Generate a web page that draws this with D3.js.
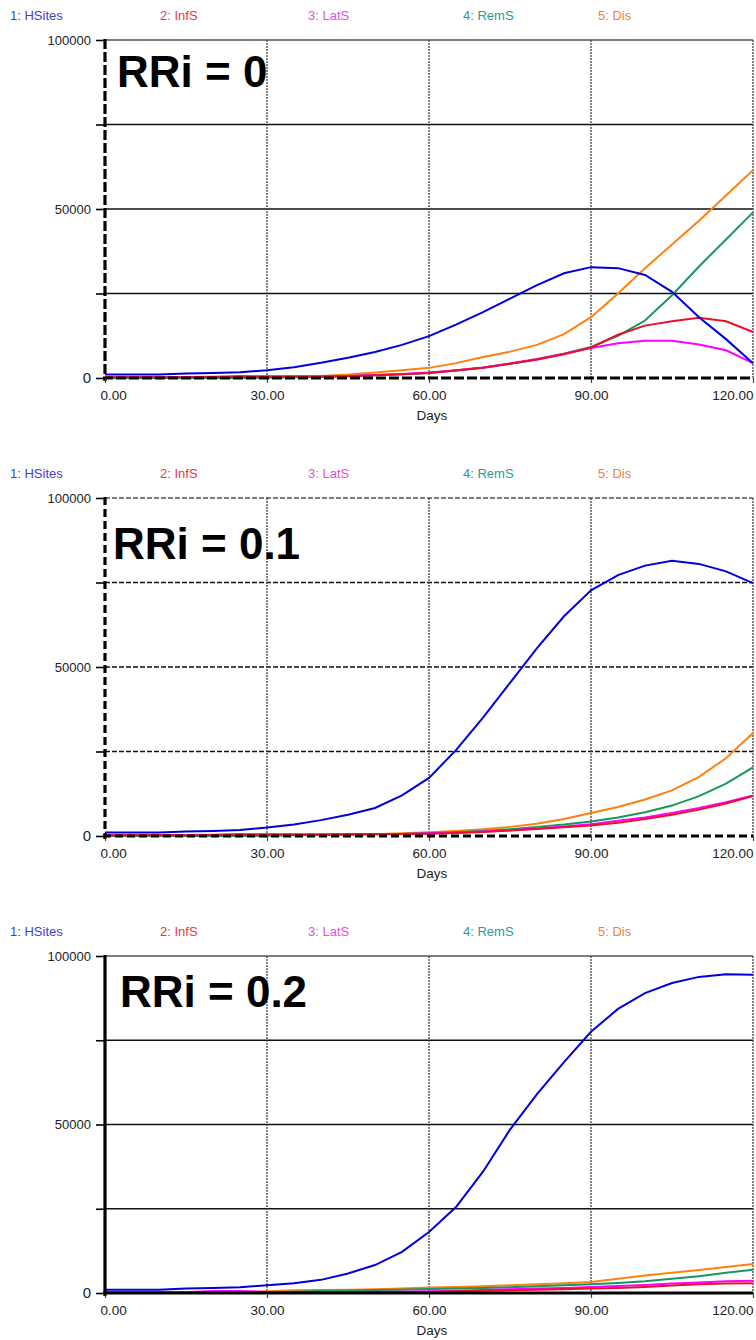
<!DOCTYPE html>
<html>
<head>
<meta charset="utf-8">
<script src="https://cdn.jsdelivr.net/npm/d3@7"></script>
<style>
  body { margin: 0; background: #fff; }
  svg { display: block; font-family: "Liberation Sans", Arial, sans-serif; }
</style>
</head>
<body>
<div id="corpo"></div>
<script>
// days sampled every 5 days
var days = [0,5,10,15,20,25,30,35,40,45,50,55,60,65,70,75,80,85,90,95,100,105,110,115,120];

var seriesNames = ["1: HSites", "2: InfS", "3: LatS", "4: RemS", "5: Dis"];
var titles = ["RRi = 0", "RRi = 0.1", "RRi = 0.2"];
var xTicks = [0, 30, 60, 90, 120];
var yTicks = [0, 25000, 50000, 75000, 100000];
var yLabels = [0, 50000, 100000];

// RRi = 0
var hsites0 = [1000,1000,1000,1300,1500,1700,2300,3200,4500,6000,7700,9800,12400,15800,19500,23500,27500,31000,32800,32500,30500,25500,18000,11500,4400];
var infs0   = [200,200,200,200,300,300,400,400,400,500,800,1100,1500,2200,3000,4200,5500,7000,9000,12800,15500,16800,17800,16800,13600];
var lats0   = [300,300,300,300,400,600,500,500,500,600,900,1200,1600,2300,3100,4300,5600,7200,8900,10300,11000,11000,9900,8200,4400];
var rems0   = [0,0,0,0,0,0,100,200,300,500,800,1100,1500,2200,3000,4200,5500,7200,9200,12500,17000,24500,33000,41000,49000];
var dis0    = [0,0,0,0,0,0,200,400,600,1000,1600,2300,3000,4400,6200,7800,9800,13000,18000,25000,32500,39500,46500,54000,61500];

// RRi = 0.1
var hsites1 = [1000,1000,1000,1300,1500,1800,2500,3400,4700,6300,8300,12000,17200,25400,35000,45300,55600,65000,72700,77200,80000,81400,80500,78300,74800];
var infs1   = [200,200,200,200,300,300,400,400,400,500,500,600,700,900,1200,1600,2100,2600,3100,3900,5000,6300,7800,9600,11800];
var lats1   = [300,300,300,300,400,600,500,500,500,500,600,600,800,1000,1300,1700,2200,2800,3500,4500,5500,6800,8300,10000,12000];
var rems1   = [0,0,0,0,0,0,100,200,300,400,500,600,800,1100,1500,2000,2700,3400,4300,5500,7000,9000,11800,15500,20300];
var dis1    = [0,0,0,0,0,0,200,300,400,400,500,800,1100,1500,2000,2700,3600,5000,6800,8600,10800,13500,17500,23000,30500];

// RRi = 0.2
var hsites2 = [1000,1000,1000,1300,1500,1700,2300,2900,3900,5800,8300,12200,18100,25500,36000,48500,59000,68500,77500,84300,89000,92000,93800,94600,94400];
var infs2   = [100,100,100,100,200,200,300,300,300,300,300,300,300,500,700,800,1000,1100,1300,1500,1800,2200,2600,2800,2900];
var lats2   = [200,200,200,200,600,600,300,300,300,300,400,400,500,700,900,1100,1300,1500,1800,2100,2400,2800,3100,3500,3600];
var rems2   = [0,0,0,0,0,0,200,400,600,700,900,1000,1200,1300,1500,1700,2000,2300,2600,3000,3500,4200,5000,6000,6900];
var dis2    = [300,300,300,300,300,300,500,800,900,1000,1100,1300,1600,1800,2000,2300,2600,2900,3300,4200,5200,6000,6800,7700,8600];

var panelData = [
    [hsites0, infs0, lats0, rems0, dis0],
    [hsites1, infs1, lats1, rems1, dis1],
    [hsites2, infs2, lats2, rems2, dis2]
];

var lineColors = ["#0000dd", "#e8102a", "#ff00ff", "#14995a", "#ff8010"];
var legendColors = ["#4040d8", "#e8384a", "#e050e0", "#2a9a9a", "#f08040"];
var legendX = [10, 160, 308, 463, 598];

// layout / style of each panel
var panels = [
    {top: 40,  bottom: 378,  titleX: 117, titleY: 87,   grid: null,  axis: "10,3"},
    {top: 498, bottom: 836,  titleX: 113, titleY: 559,  grid: "5,2", axis: "8,4"},
    {top: 956, bottom: 1293, titleX: 120, titleY: 1007, grid: null,  axis: null}
];

var width = 756, height = 1340;
var left = 105, right = 753;

var svg = d3.select("#corpo").append("svg")
    .attr("width", width)
    .attr("height", height);

var x = d3.scaleLinear().domain([0, 120]).range([left, right]);

panels.forEach(function(p, i){
    var y = d3.scaleLinear().domain([0, 100000]).range([p.bottom, p.top]);
    var g = svg.append("g");

    // legend
    g.selectAll(".leg")
        .data(seriesNames)
        .enter().append("text")
        .attr("x", function(d, k){ return legendX[k]; })
        .attr("y", p.top - 20)
        .style("font-size", "13px")
        .style("fill", function(d, k){ return legendColors[k]; })
        .text(function(d){ return d; });

    // horizontal grid
    g.selectAll(".hg")
        .data([25000, 50000, 75000])
        .enter().append("line")
        .attr("x1", left).attr("x2", right)
        .attr("y1", function(d){ return y(d); })
        .attr("y2", function(d){ return y(d); })
        .style("stroke", "#111")
        .style("stroke-width", 1.7)
        .style("stroke-dasharray", p.grid);

    // top line
    g.append("line")
        .attr("x1", left).attr("x2", right)
        .attr("y1", y(100000)).attr("y2", y(100000))
        .style("stroke", "#555")
        .style("stroke-width", 1.7)
        .style("stroke-dasharray", p.grid);

    // vertical grid (dotted)
    g.selectAll(".vg")
        .data([30, 60, 90, 120])
        .enter().append("line")
        .attr("x1", function(d){ return x(d); })
        .attr("x2", function(d){ return x(d); })
        .attr("y1", p.top).attr("y2", p.bottom)
        .style("stroke", "#444")
        .style("stroke-width", 1.3)
        .style("stroke-dasharray", "2,1");

    // series
    var line = d3.line()
        .x(function(d, k){ return x(days[k]); })
        .y(function(d){ return y(d); });

    // draw back to front: Dis first, HSites last
    var order = [4, 3, 2, 1, 0];
    order.forEach(function(s){
        g.append("path")
            .datum(panelData[i][s])
            .attr("d", line)
            .style("fill", "none")
            .style("stroke", lineColors[s])
            .style("stroke-width", 2);
    });

    // y axis
    var yAxis = d3.axisLeft(y)
        .tickValues(yTicks)
        .tickSize(9)
        .tickPadding(5)
        .tickFormat(function(d){ return yLabels.indexOf(d) >= 0 ? d : ""; });
    var ya = g.append("g")
        .attr("transform", "translate(" + left + ",0)")
        .call(yAxis);
    ya.select(".domain").remove();
    ya.selectAll(".tick line").style("stroke", "#000").style("stroke-width", 1.6);
    ya.selectAll("text").style("font-size", "13px").style("fill", "#222")
        .style("font-family", "Liberation Sans, Arial");
    ya.selectAll(".tick").filter(function(d){ return d === 0; }).select("text")
        .style("font-size", "15px");

    g.append("line")
        .attr("x1", left).attr("x2", left)
        .attr("y1", p.top - 1).attr("y2", p.bottom + 3)
        .style("stroke", "#000")
        .style("stroke-width", 3.2)
        .style("stroke-dasharray", p.axis);

    // x axis
    var xAxis = d3.axisBottom(x)
        .tickValues(xTicks)
        .tickSize(5)
        .tickPadding(7)
        .tickFormat(d3.format(".2f"));
    var xa = g.append("g")
        .attr("transform", "translate(0," + p.bottom + ")")
        .call(xAxis);
    xa.select(".domain").remove();
    xa.selectAll(".tick line").style("stroke", "#444").style("stroke-width", 1.2);
    xa.selectAll("text").style("font-size", "13.5px").style("fill", "#222")
        .style("font-family", "Liberation Sans, Arial")
        .attr("text-anchor", function(d){ return d === 0 ? "start" : (d === 120 ? "end" : "middle"); })
        .attr("dx", function(d){ return d === 0 ? -5 : 0; });

    g.append("line")
        .attr("x1", left - 2).attr("x2", right)
        .attr("y1", p.bottom).attr("y2", p.bottom)
        .style("stroke", "#000")
        .style("stroke-width", 3.2)
        .style("stroke-dasharray", p.axis);

    g.append("text")
        .attr("x", x(60) + 3)
        .attr("y", p.bottom + 42)
        .attr("text-anchor", "middle")
        .style("font-size", "13.5px")
        .style("fill", "#222")
        .text("Days");

    // title
    g.append("text")
        .attr("x", p.titleX)
        .attr("y", p.titleY)
        .style("font-size", "44px")
        .style("font-weight", "bold")
        .style("fill", "#000")
        .text(titles[i]);
});
</script>
</body>
</html>
